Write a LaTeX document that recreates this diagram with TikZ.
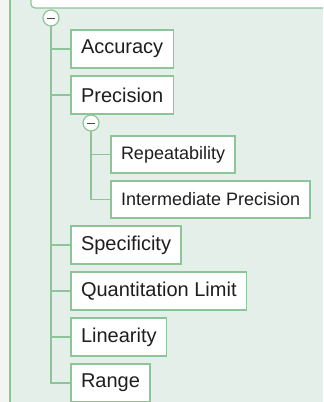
\documentclass[tikz,border=0pt]{standalone}
\usepackage{fontspec}
\setmainfont{Liberation Sans}
\usetikzlibrary{positioning}
\definecolor{mapbg}{RGB}{229,239,233}
\definecolor{mapside}{RGB}{241,246,242}
\definecolor{mapline}{RGB}{141,197,152}
\definecolor{maptext}{RGB}{30,30,30}

\begin{document}
\begin{tikzpicture}[
				      x=0.5pt, y=-0.5pt,
				      every node/.style = {text=maptext},
				      topic/.style = {shape=rectangle, draw=mapline, fill=white,
						      line width=0.6pt, outer sep=0pt, minimum height=19pt,
						      inner xsep=5pt, font=\fontsize{10}{12}\selectfont},
				      subtopic/.style = {topic, minimum height=18.5pt,
						      font=\fontsize{9}{11}\selectfont},
				      toggle/.style = {shape=circle, draw=mapline, fill=white,
						      line width=0.6pt, outer sep=0pt, minimum size=8pt,
						      inner sep=0pt},
				      branch/.style = {draw=mapline, line width=0.8pt},
				      node distance=4pt
			      ]

			      \useasboundingbox (0,0) rectangle (323,402);
			      \clip (0,0) rectangle (323,402);
			      \fill[mapside] (0,0) rectangle (10,402);
			      \fill[mapbg] (10,0) rectangle (323,402);
			      \draw[branch] (10,0) -- (10,402);
			      \draw[draw=mapline, fill=white, line width=0.6pt, rounded corners=2pt]
				      (31,-20) rectangle (340,8);

			      \node[toggle] (tog) at (51,18) {};
			      \node[topic, anchor=north west] (acc) at (71,30) {Accuracy};
			      \node[topic, below=of acc.south west, anchor=north west] (prec) {Precision};
			      \node[toggle] (togp) at ([shift={(20,9)}]prec.south west) {};
			      \node[subtopic, below=11pt of prec.south west, anchor=north west,
				      xshift=20pt] (rep) {Repeatability};
			      \node[subtopic, below=of rep.south west, anchor=north west] (inter)
				      {Intermediate Precision};
			      \node[topic, below=of inter.south west, anchor=north west,
				      xshift=-20pt] (spec) {Specificity};
			      \node[topic, below=of spec.south west, anchor=north west] (quant)
				      {Quantitation Limit};
			      \node[topic, below=of quant.south west, anchor=north west] (lin) {Linearity};
			      \node[topic, below=of lin.south west, anchor=north west] (rng) {Range};

			      \foreach \n in {acc, prec, spec, quant, lin, rng}
				      \draw[branch] (tog.south) |- (\n.west);
			      \foreach \n in {rep, inter}
				      \draw[branch] (togp.south) |- (\n.west);
			      \foreach \t in {tog, togp}
				      \draw[maptext!80, line width=0.5pt]
					      ([xshift=-2pt]\t.center) -- ([xshift=2pt]\t.center);
		      \end{tikzpicture}
\end{document}
